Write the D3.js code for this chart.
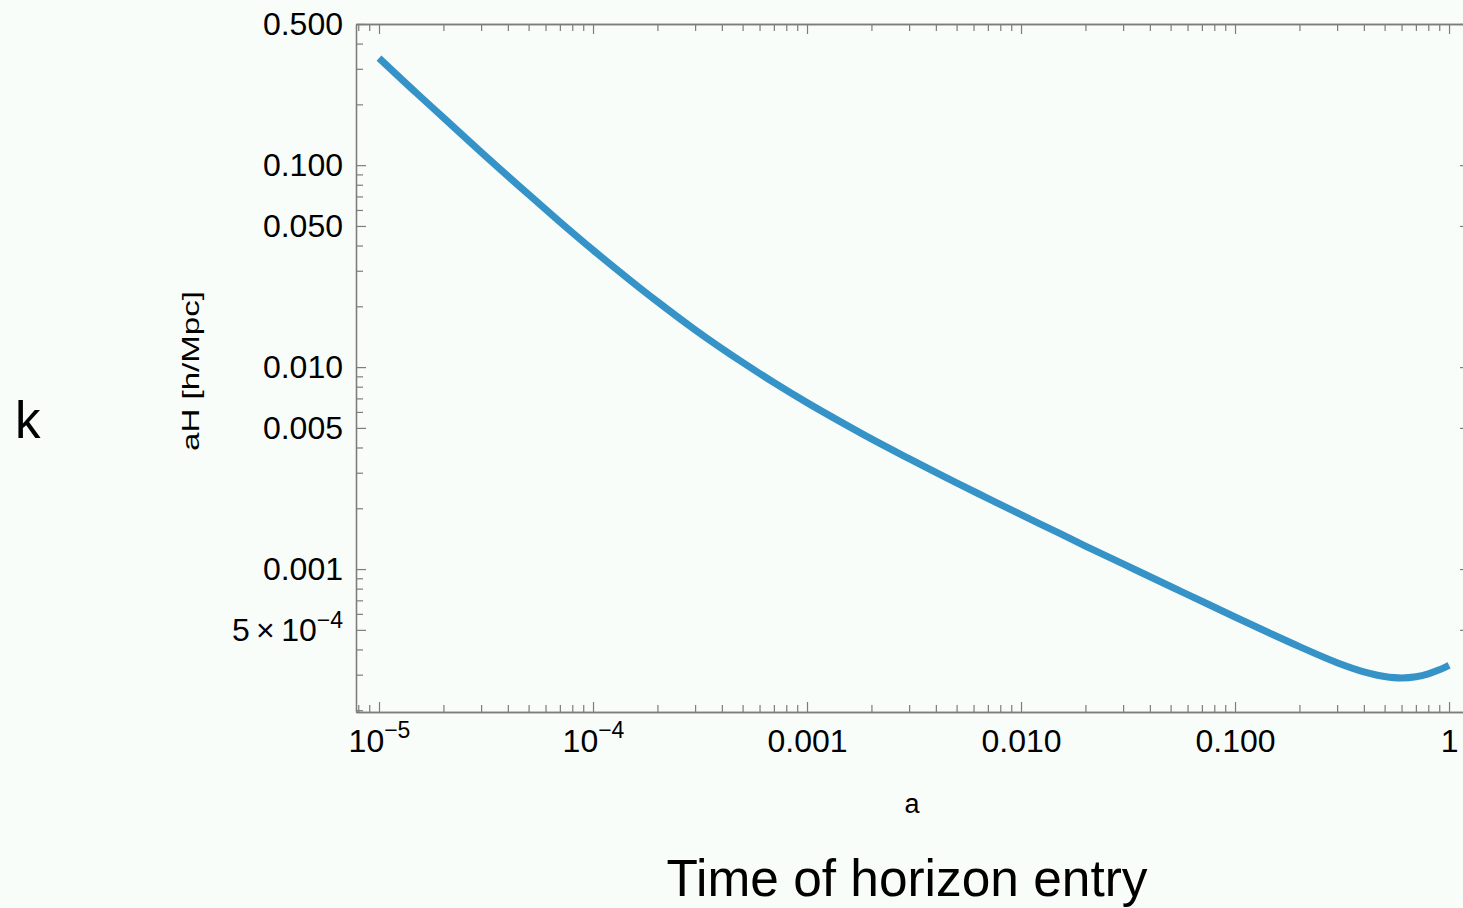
<!DOCTYPE html>
<html>
<head>
<meta charset="utf-8">
<script src="https://cdn.jsdelivr.net/npm/d3@7"></script>
<style>
  html, body { margin: 0; padding: 0; background: #f9fdfa; overflow: hidden; }
  svg { display: block; }
  text { font-family: "Liberation Sans", Arial, Helvetica, sans-serif; fill: #000; }
</style>
</head>
<body>
<svg id="chart" width="1463" height="908"></svg>
<script>
// Scale factor a and the comoving horizon scale aH (h/Mpc)
const scaleFactor = [1e-5, 1.5e-5, 2e-5, 3e-5, 5e-5, 7e-5, 1e-4, 1.5e-4, 2e-4, 3e-4,
  5e-4, 7e-4, 1e-3, 1.5e-3, 2e-3, 3e-3, 5e-3, 7e-3, 0.01, 0.015, 0.02, 0.03, 0.05,
  0.07, 0.1, 0.15, 0.2, 0.3, 0.4, 0.5, 0.6, 0.7, 0.8, 0.9, 1.0];
const horizonScale = [0.339, 0.227, 0.172, 0.116, 0.0716, 0.0524, 0.0380, 0.0268, 0.0211,
  0.0153, 0.01055, 0.00839, 0.00667, 0.00522, 0.00441, 0.00352, 0.00267, 0.00224,
  0.00186, 0.00151, 0.00130, 0.00106, 0.000820, 0.000693, 0.000579, 0.000474,
  0.000413, 0.000344, 0.000310, 0.000294, 0.000289, 0.000293, 0.000303, 0.000317,
  0.000334];

// Labelled ticks ("^" marks a superscript exponent)
const xMajorTicks = [1e-5, 1e-4, 1e-3, 1e-2, 1e-1, 1];
const xTickLabels = ["10^\u22125", "10^\u22124", "0.001", "0.010", "0.100", "1"];
const yMajorTicks = [0.5, 0.1, 0.05, 0.01, 0.005, 0.001, 5e-4];
const yTickLabels = ["0.500", "0.100", "0.050", "0.010", "0.005", "0.001", "5\u2009\u00d7\u200910^\u22124"];

const frame = { left: 356, right: 1470, top: 24, bottom: 712 };
const frameColor = "#7c7c7c";
const lineColor = "#3593c8";

const svg = d3.select("#chart");

const x = d3.scaleLog()
  .domain([Math.pow(10, -5.1075), Math.pow(10, 0.098)])
  .range([frame.left, frame.right]);
const y = d3.scaleLog()
  .domain([1.96e-4, 0.5])
  .range([frame.bottom, frame.top]);

const isMajor = (list) => (d) => list.some(m => Math.abs(m - d) / m < 1e-6);
const xMinorTicks = x.ticks().filter(d => !isMajor(xMajorTicks)(d));
const yMinorTicks = y.ticks().filter(d => !isMajor(yMajorTicks)(d));

function styleAxis(g) {
  g.attr("font-size", null).attr("font-family", null);
  g.selectAll(".domain").attr("stroke", frameColor).attr("stroke-width", 1.3);
  g.selectAll(".tick line").attr("stroke", frameColor).attr("stroke-width", 1.2);
}

function writeLabel(sel, label, supShift) {
  sel.text("");
  const parts = label.split("^");
  sel.append("tspan").text(parts[0]);
  if (parts.length > 1) {
    sel.append("tspan")
      .attr("font-size", "23px")
      .attr("dy", supShift)
      .text(parts[1]);
  }
}

// Minor ticks on all four sides
const minorLen = -7, majorLen = -10;
svg.append("g").attr("transform", `translate(0,${frame.bottom})`)
  .call(d3.axisBottom(x).tickValues(xMinorTicks).tickSizeInner(minorLen).tickSizeOuter(0).tickFormat(""))
  .call(styleAxis);
svg.append("g").attr("transform", `translate(0,${frame.top})`)
  .call(d3.axisTop(x).tickValues(xMinorTicks).tickSizeInner(minorLen).tickSizeOuter(0).tickFormat(""))
  .call(styleAxis);
svg.append("g").attr("transform", `translate(${frame.left},0)`)
  .call(d3.axisLeft(y).tickValues(yMinorTicks).tickSizeInner(minorLen).tickSizeOuter(0).tickFormat(""))
  .call(styleAxis);
svg.append("g").attr("transform", `translate(${frame.right},0)`)
  .call(d3.axisRight(y).tickValues(yMinorTicks).tickSizeInner(minorLen).tickSizeOuter(0).tickFormat(""))
  .call(styleAxis);

// Major ticks; labels on bottom and left only
const xAxis = svg.append("g").attr("transform", `translate(0,${frame.bottom})`)
  .call(d3.axisBottom(x).tickValues(xMajorTicks).tickSizeInner(majorLen).tickSizeOuter(0).tickPadding(17))
  .call(styleAxis);
xAxis.selectAll(".tick text")
  .attr("font-size", "32px")
  .each(function (d, i) { writeLabel(d3.select(this), xTickLabels[i], "-14px"); });

svg.append("g").attr("transform", `translate(0,${frame.top})`)
  .call(d3.axisTop(x).tickValues(xMajorTicks).tickSizeInner(majorLen).tickSizeOuter(0).tickFormat(""))
  .call(styleAxis);

const yAxis = svg.append("g").attr("transform", `translate(${frame.left},0)`)
  .call(d3.axisLeft(y).tickValues(yMajorTicks).tickSizeInner(majorLen).tickSizeOuter(0).tickPadding(13))
  .call(styleAxis);
yAxis.selectAll(".tick text")
  .attr("font-size", "32px")
  .each(function (d, i) { writeLabel(d3.select(this), yTickLabels[i], "-13px"); });

svg.append("g").attr("transform", `translate(${frame.right},0)`)
  .call(d3.axisRight(y).tickValues(yMajorTicks).tickSizeInner(majorLen).tickSizeOuter(0).tickFormat(""))
  .call(styleAxis);

// Curve
const line = d3.line()
  .x((d, i) => x(scaleFactor[i]))
  .y(d => y(d))
  .curve(d3.curveMonotoneX);

svg.append("path")
  .datum(horizonScale)
  .attr("d", line)
  .attr("fill", "none")
  .attr("stroke", lineColor)
  .attr("stroke-width", 7)
  .attr("stroke-linejoin", "round");

// Axis titles and annotations
svg.append("text")
  .attr("x", 912).attr("y", 813)
  .attr("text-anchor", "middle")
  .attr("font-size", "27px")
  .text("a");

svg.append("text")
  .attr("transform", "translate(199,371) rotate(-90)")
  .attr("text-anchor", "middle")
  .attr("font-size", "24px")
  .attr("textLength", 160)
  .attr("lengthAdjust", "spacingAndGlyphs")
  .text("aH [h/Mpc]");

svg.append("text")
  .attr("x", 15).attr("y", 438)
  .attr("font-size", "51px")
  .text("k");

svg.append("text")
  .attr("x", 907).attr("y", 896)
  .attr("text-anchor", "middle")
  .attr("font-size", "52px")
  .attr("textLength", 481)
  .attr("lengthAdjust", "spacingAndGlyphs")
  .text("Time of horizon entry");
</script>
</body>
</html>
